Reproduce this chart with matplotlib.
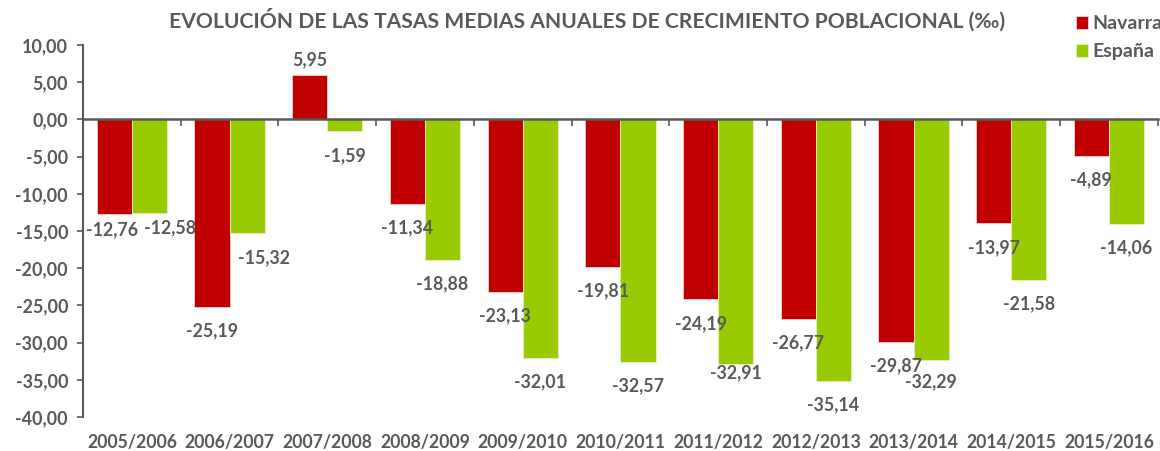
import matplotlib.pyplot as plt
import numpy as np

# periods and yearly mean growth rates (per mille)
periods = ['2005/2006', '2006/2007', '2007/2008', '2008/2009', '2009/2010', '2010/2011',
           '2011/2012', '2012/2013', '2013/2014', '2014/2015', '2015/2016']
navarra = [-12.76, -25.19, 5.95, -11.34, -23.13, -19.81, -24.19, -26.77, -29.87, -13.97, -4.89]
espana = [-12.58, -15.32, -1.59, -18.88, -32.01, -32.57, -32.91, -35.14, -32.29, -21.58, -14.06]

RED = '#C00000'
GREEN = '#99CC00'
GREY = '#595959'

plt.rcParams['font.family'] = ['Lato', 'DejaVu Sans']
plt.rcParams['font.weight'] = 'bold'

fig = plt.figure(figsize=(11.6, 4.51), dpi=100)
ax = fig.add_axes([0.0716, 0.0754, 0.9265, 0.8246])

x = np.arange(len(periods))
w = 0.36
bars_n = ax.bar(x - w / 2, navarra, w, color=RED, edgecolor='#f2d0d0', linewidth=0.6, label='Navarra')
bars_e = ax.bar(x + w / 2, espana, w, color=GREEN, edgecolor='#e6f2c0', linewidth=0.6, label='España')

ax.set_xlim(-0.5, len(periods) - 0.5)
ax.set_ylim(-40, 10)

# data labels, a few nudged like in the original
nudge = {(0, 0): (-2, 9), (0, 1): (21, 9), (1, 1): (17, 0), (6, 1): (0, 16), (8, 1): (0, 2)}
for s, (bars, vals) in enumerate([(bars_n, navarra), (bars_e, espana)]):
    for i, (b, v) in enumerate(zip(bars, vals)):
        dx, dy = nudge.get((i, s), (0, 0))
        off = 15 if v > 0 else -24 + dy
        ax.annotate(f'{v:.2f}'.replace('.', ','),
                    (b.get_x() + b.get_width() / 2, v),
                    xytext=(dx, off), textcoords='offset pixels',
                    ha='center', va='center', fontsize=12.8, color=GREY, fontweight='bold')

# spines: left axis and a zero line
for side in ['top', 'right']:
    ax.spines[side].set_visible(False)
ax.spines['left'].set_color(GREY)
ax.spines['left'].set_linewidth(1.5)
ax.spines['bottom'].set_position(('data', 0))
ax.spines['bottom'].set_color(GREY)
ax.spines['bottom'].set_linewidth(1.8)
ax.spines['bottom'].set_zorder(3)

ax.set_yticks(np.arange(-40, 11, 5))
ax.set_yticklabels([f'{t:.2f}'.replace('.', ',') for t in np.arange(-40, 11, 5)])
ax.tick_params(axis='y', length=4.3, width=1.2, color=GREY, labelsize=12.9, labelcolor=GREY, pad=6.5)

ax.set_xticks(x)
ax.set_xticklabels([])
ax.tick_params(axis='x', which='major', length=0)
ax.set_xticks(np.arange(-0.5, len(periods), 1)[1:], minor=True)
ax.tick_params(axis='x', which='minor', length=5, width=1.2, color=GREY, direction='out')

sec = ax.secondary_xaxis('bottom')
sec.set_xticks(x)
sec.set_xticklabels(periods)
sec.spines['bottom'].set_visible(False)
sec.tick_params(length=0, labelsize=12.7, labelcolor=GREY, pad=12)

fig.text(0.506, 0.955, 'EVOLUCIÓN DE LAS TASAS MEDIAS ANUALES DE CRECIMIENTO POBLACIONAL (‰)',
         ha='center', va='center', fontsize=15.2, color=GREY, fontweight='bold')

leg = fig.legend(handles=[bars_n, bars_e], loc='upper left', bbox_to_anchor=(0.9276, 0.966),
                 frameon=False, fontsize=14, handlelength=0.62, handleheight=0.68,
                 handletextpad=0.2, labelspacing=0.55, borderaxespad=0, borderpad=0)
for t in leg.get_texts():
    t.set_color(GREY)

fig.savefig('out.png', dpi=100)
